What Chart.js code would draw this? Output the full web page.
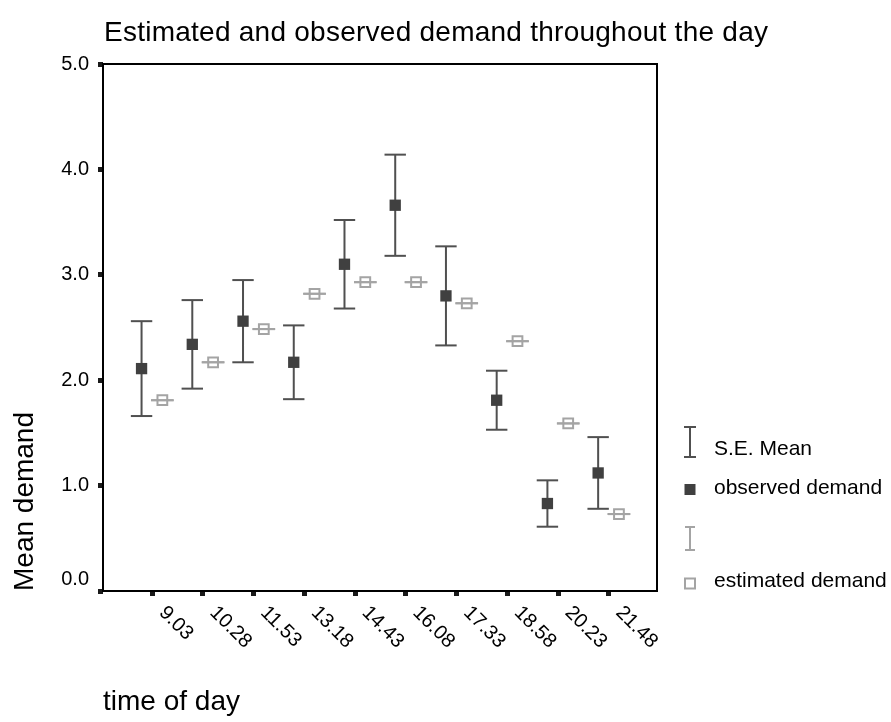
<!DOCTYPE html>
<html>
<head>
<meta charset="utf-8">
<script src="https://cdn.jsdelivr.net/npm/chart.js@4.4.1/dist/chart.umd.min.js"></script>
<style>
  body { margin: 0; background: #fff; }
  canvas { display: block; }
</style>
</head>
<body>
<canvas id="chart" width="891" height="722"></canvas>
<script>
const timeLabels = ['9.03', '10.28', '11.53', '13.18', '14.43', '16.08', '17.33', '18.58', '20.23', '21.48'];
const observed = [2.11, 2.34, 2.56, 2.17, 3.10, 3.66, 2.80, 1.81, 0.83, 1.12];
const observedSE = [0.45, 0.42, 0.39, 0.35, 0.42, 0.48, 0.47, 0.28, 0.22, 0.34];
const estimated = [1.81, 2.17, 2.485, 2.82, 2.93, 2.93, 2.73, 2.37, 1.59, 0.73];
const estimatedSE = [0, 0, 0, 0, 0, 0, 0, 0, 0, 0];
const yTicks = [0, 1, 2, 3, 4, 5];

const DARK = '#404040', DARK_BAR = '#505050', LIGHT = '#a4a4a4';
const FONT = '"Liberation Sans", Arial, sans-serif';
const obsShift = -0.21, estShift = 0.2;

// error bar = vertical segment + caps, null point breaks the line
function whiskers(center, se, shift) {
  return center.flatMap((v, i) => [
    {x: i + shift, y: v - se[i]},
    {x: i + shift, y: v + se[i]},
    {x: i + shift, y: null}
  ]);
}

const frameAndText = {
  id: 'frameAndText',
  afterDraw(chart) {
    const {ctx, chartArea: a, scales: {x}} = chart;
    ctx.save();
    ctx.strokeStyle = '#000';
    ctx.lineWidth = 2;
    ctx.strokeRect(a.left, a.top, a.right - a.left, a.bottom - a.top);

    ctx.fillStyle = '#000';
    ctx.font = '28px ' + FONT;
    ctx.letterSpacing = '0.25px';
    ctx.textAlign = 'left';
    ctx.textBaseline = 'alphabetic';
    ctx.fillText('Estimated and observed demand throughout the day', 104, 41);
    ctx.letterSpacing = '0px';

    // rotated x labels
    ctx.font = '20px ' + FONT;
    ctx.textBaseline = 'middle';
    timeLabels.forEach((t, i) => {
      const px = x.getPixelForValue(i);
      ctx.save();
      ctx.translate(px + 10, a.bottom + 18.5);
      ctx.rotate(Math.PI / 4);
      ctx.fillText(t, 0, 0);
      ctx.restore();
    });

    // legend
    const lx = 690;
    ctx.lineWidth = 2;
    ctx.strokeStyle = DARK_BAR;
    ctx.beginPath();
    ctx.moveTo(lx, 427); ctx.lineTo(lx, 457);
    ctx.moveTo(lx - 6, 427); ctx.lineTo(lx + 6, 427);
    ctx.moveTo(lx - 6, 457); ctx.lineTo(lx + 6, 457);
    ctx.stroke();
    ctx.fillStyle = DARK;
    ctx.fillRect(lx - 5.5, 484, 11, 11);
    ctx.strokeStyle = LIGHT;
    ctx.beginPath();
    ctx.moveTo(lx, 527); ctx.lineTo(lx, 550);
    ctx.moveTo(lx - 5, 527); ctx.lineTo(lx + 5, 527);
    ctx.moveTo(lx - 5, 550); ctx.lineTo(lx + 5, 550);
    ctx.stroke();
    ctx.strokeRect(lx - 5, 578.5, 10, 10);

    ctx.fillStyle = '#000';
    ctx.font = '21px ' + FONT;
    ctx.textBaseline = 'alphabetic';
    ctx.fillText('S.E. Mean', 714, 455);
    ctx.fillText('observed demand', 714, 494);
    ctx.fillText('estimated demand', 714, 587);
    ctx.restore();
  }
};

new Chart(document.getElementById('chart'), {
  type: 'scatter',
  data: {
    datasets: [
      {
        label: 'observed demand',
        data: observed.map((v, i) => ({x: i + obsShift, y: v})),
        pointStyle: 'rect',
        pointRadius: 8,
        pointBorderWidth: 0,
        backgroundColor: DARK,
        order: 0
      },
      {
        label: 'estimated demand',
        data: estimated.map((v, i) => ({x: i + estShift, y: v})),
        pointStyle: 'rect',
        pointRadius: 6.9,
        pointBorderWidth: 2,
        borderColor: LIGHT,
        backgroundColor: 'rgba(0,0,0,0)',
        order: 0
      },
      {
        label: 'S.E. Mean',
        data: whiskers(observed, observedSE, obsShift),
        showLine: true,
        spanGaps: false,
        borderColor: DARK_BAR,
        borderWidth: 2,
        pointStyle: 'line',
        pointRadius: 10.7,
        pointBorderWidth: 2,
        pointBorderColor: DARK_BAR,
        order: 1
      },
      {
        label: 'estimated S.E.',
        data: whiskers(estimated, estimatedSE, estShift),
        showLine: true,
        spanGaps: false,
        borderColor: LIGHT,
        borderWidth: 2,
        pointStyle: 'line',
        pointRadius: 11.3,
        pointBorderWidth: 2,
        pointBorderColor: LIGHT,
        order: 1
      }
    ]
  },
  options: {
    responsive: false,
    animation: false,
    events: [],
    layout: { padding: { top: 64, right: 234, bottom: 0, left: 0 } },
    plugins: {
      legend: { display: false },
      tooltip: { enabled: false }
    },
    scales: {
      x: {
        type: 'linear',
        min: -0.97,
        max: 9.95,
        afterBuildTicks: s => { s.ticks = timeLabels.map((_, i) => ({value: i})); },
        afterFit: s => { s.height = 131; },
        ticks: { display: false },
        grid: { drawOnChartArea: false, drawTicks: true, tickLength: 5, tickWidth: 5, tickColor: '#1a1a1a' },
        border: { display: false },
        title: {
          display: true,
          text: 'time of day',
          align: 'start',
          color: '#000',
          font: { family: FONT, size: 28 },
          padding: { top: 0, bottom: 3 }
        }
      },
      y: {
        min: 0,
        max: 5,
        afterBuildTicks: s => { s.ticks = yTicks.map(v => ({value: v})); },
        afterFit: s => { s.width = 103; },
        ticks: {
          color: '#000',
          padding: 9,
          font: { family: FONT, size: 20 },
          callback: v => v === 0 ? ['0.0', ''] : v.toFixed(1)
        },
        grid: { drawOnChartArea: false, drawTicks: true, tickLength: 5, tickWidth: 5, tickColor: '#1a1a1a' },
        border: { display: false },
        title: {
          display: true,
          text: 'Mean demand',
          align: 'start',
          color: '#000',
          font: { family: FONT, size: 28 },
          padding: { top: 8, bottom: 0 }
        }
      }
    }
  },
  plugins: [frameAndText]
});
</script>
</body>
</html>
